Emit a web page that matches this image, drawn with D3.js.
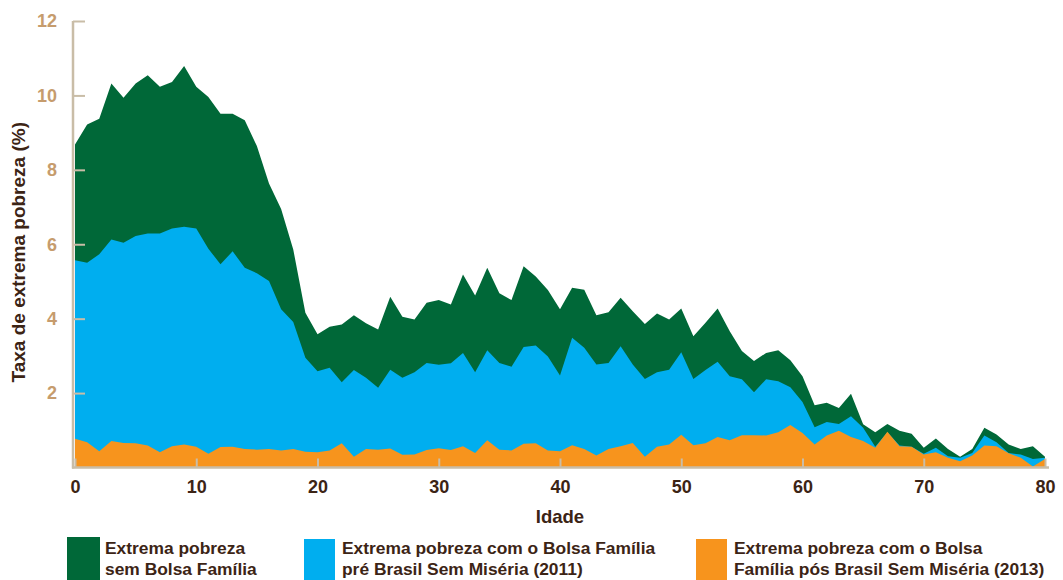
<!DOCTYPE html>
<html>
<head>
<meta charset="utf-8">
<script src="https://cdn.jsdelivr.net/npm/d3@7"></script>
<style>
  body { margin: 0; background: #fff; }
  svg text { font-family: 'Liberation Sans', Arial, sans-serif; font-weight: bold; }
</style>
</head>
<body>
<svg id="chart" width="1063" height="580"></svg>
<script>
// ages 0..80
const ages = [0,1,2,3,4,5,6,7,8,9,10,11,12,13,14,15,16,17,18,19,20,21,22,23,24,25,26,27,28,29,30,
  31,32,33,34,35,36,37,38,39,40,41,42,43,44,45,46,47,48,49,50,51,52,53,54,55,56,57,58,59,60,
  61,62,63,64,65,66,67,68,69,70,71,72,73,74,75,76,77,78,79,80];

// Extrema pobreza sem Bolsa Família
const semBolsa = [8.68,9.22,9.37,10.32,9.94,10.32,10.54,10.23,10.36,10.79,10.23,9.96,9.51,9.51,9.33,8.64,7.63,6.95,5.86,4.16,3.58,
  3.78,3.84,4.09,3.88,3.71,4.59,4.05,3.98,4.43,4.50,
  4.38,5.19,4.62,5.37,4.68,4.50,5.41,5.13,4.77,4.25,
  4.83,4.78,4.09,4.17,4.56,4.20,3.86,4.14,3.98,4.27,
  3.53,3.89,4.27,3.66,3.13,2.86,3.08,3.15,2.88,2.45,
  1.67,1.74,1.60,1.98,1.16,0.95,1.17,0.99,0.91,0.53,
  0.78,0.50,0.29,0.50,1.07,0.89,0.62,0.50,0.57,0.29];

// Extrema pobreza com o Bolsa Família pré Brasil Sem Miséria (2011)
const bolsa2011 = [5.57,5.50,5.73,6.13,6.04,6.22,6.29,6.29,6.42,6.47,6.42,5.88,5.46,5.81,5.37,5.22,5.01,4.25,3.91,2.95,2.59,
  2.68,2.29,2.62,2.41,2.14,2.63,2.41,2.56,2.81,2.76,
  2.80,3.08,2.56,3.15,2.81,2.71,3.24,3.28,2.98,2.47,
  3.49,3.22,2.77,2.81,3.26,2.77,2.38,2.56,2.63,3.10,
  2.38,2.62,2.84,2.45,2.37,2.02,2.37,2.32,2.16,1.76,
  1.08,1.22,1.17,1.38,1.07,0.56,0.95,0.59,0.56,0.37,
  0.53,0.30,0.26,0.39,0.86,0.68,0.39,0.35,0.23,0.26];

// Extrema pobreza com o Bolsa Família pós Brasil Sem Miséria (2013)
const bolsa2013 = [0.77,0.68,0.44,0.71,0.66,0.65,0.59,0.41,0.57,0.62,0.56,0.37,0.55,0.56,0.50,0.48,0.50,0.46,0.50,0.42,0.41,
  0.46,0.65,0.29,0.50,0.48,0.51,0.34,0.35,0.47,0.52,
  0.47,0.57,0.39,0.73,0.48,0.46,0.64,0.65,0.46,0.44,
  0.60,0.50,0.32,0.50,0.57,0.66,0.29,0.56,0.62,0.88,
  0.60,0.65,0.82,0.73,0.87,0.87,0.86,0.95,1.14,0.93,
  0.62,0.86,0.99,0.82,0.71,0.53,0.96,0.57,0.56,0.35,
  0.41,0.26,0.17,0.32,0.59,0.57,0.38,0.26,0.03,0.23];

const xTicks = [0,10,20,30,40,50,60,70,80];
const yTicks = [2,4,6,8,10,12];

const seriesNames = [
  ['Extrema pobreza', 'sem Bolsa Família'],
  ['Extrema pobreza com o Bolsa Família', 'pré Brasil Sem Miséria (2011)'],
  ['Extrema pobreza com o Bolsa', 'Família pós Brasil Sem Miséria (2013)']
];
const seriesColors = ['#006838', '#00aeef', '#f7941d'];

const axisColor = '#c9bda7';
const yLabelColor = '#c69c6d';
const textColor = '#3c2415';

class AreaChart {
  constructor(_config) {
    this.config = {
      parentElementSelector: _config.parentElementSelector,
      margin: _config.margin || { top: 21, right: 18, bottom: 112.5, left: 75 },
    };
    this.initVis();
  }

  initVis() {
    const m = this.config.margin;
    this.svg = d3.select(this.config.parentElementSelector);
    this.width = +this.svg.attr('width') - m.left - m.right;
    this.height = +this.svg.attr('height') - m.top - m.bottom;

    this.xScale = d3.scaleLinear().domain([0, 80]).range([0, this.width]);
    this.yScale = d3.scaleLinear().domain([0, 12]).range([this.height, 0]);

    this.chart = this.svg.append('g')
      .attr('transform', `translate(${m.left},${m.top})`);

    this.updateVis();
  }

  updateVis() {
    const vis = this;
    const series = [semBolsa, bolsa2011, bolsa2013];

    const area = d3.area()
      .x((d, i) => vis.xScale(ages[i]))
      .y0(vis.yScale(0))
      .y1(d => vis.yScale(d));

    // the areas overlap, each one starts at zero
    vis.chart.selectAll('path.area')
      .data(series)
      .join('path')
      .attr('class', 'area')
      .attr('fill', (d, i) => seriesColors[i])
      .attr('d', area);

    // y axis, ticks pointing inside
    const yAxis = d3.axisLeft(vis.yScale)
      .tickValues(yTicks)
      .tickSize(-12)
      .tickSizeOuter(0)
      .tickPadding(16);
    const yG = vis.chart.append('g')
      .attr('transform', 'translate(-2,0)')
      .call(yAxis);
    yG.select('.domain').remove();
    yG.selectAll('.tick line').attr('stroke', axisColor).attr('stroke-width', 2);
    yG.selectAll('.tick text')
      .attr('fill', yLabelColor)
      .attr('font-size', 18)
      .attr('font-family', null);
    yG.append('line')
      .attr('x1', 0).attr('x2', 0)
      .attr('y1', vis.yScale(12)).attr('y2', vis.yScale(0) + 1)
      .attr('stroke', axisColor).attr('stroke-width', 2.5);

    // x axis
    const xAxis = d3.axisBottom(vis.xScale)
      .tickValues(xTicks)
      .tickSize(-9)
      .tickSizeOuter(0)
      .tickPadding(13);
    const xG = vis.chart.append('g')
      .attr('transform', `translate(0,${vis.height})`)
      .call(xAxis);
    xG.select('.domain').remove();
    xG.selectAll('.tick line').attr('stroke', axisColor).attr('stroke-width', 2);
    xG.selectAll('.tick text')
      .attr('fill', textColor)
      .attr('font-size', 18)
      .attr('font-family', null);
    xG.append('line')
      .attr('x1', -3).attr('x2', vis.width + 4)
      .attr('y1', 0).attr('y2', 0)
      .attr('stroke', axisColor).attr('stroke-width', 2.5);

    // axis titles
    vis.chart.append('text')
      .attr('x', vis.width / 2)
      .attr('y', vis.height + 55)
      .attr('text-anchor', 'middle')
      .attr('fill', textColor)
      .attr('font-size', 18.5)
      .text('Idade');

    vis.chart.append('text')
      .attr('transform', `translate(-50,${vis.height / 2 + 8}) rotate(-90)`)
      .attr('text-anchor', 'middle')
      .attr('fill', textColor)
      .attr('font-size', 19)
      .text('Taxa de extrema pobreza (%)');

    // legend
    const legendX = [67, 304, 696];
    const legend = vis.svg.append('g').attr('class', 'legend');
    const items = legend.selectAll('g')
      .data(seriesNames)
      .join('g')
      .attr('transform', (d, i) => `translate(${legendX[i]},0)`);
    items.append('rect')
      .attr('x', 0).attr('y', (d, i) => (i === 0 ? 537 : 539))
      .attr('width', (d, i) => (i === 0 ? 33 : 31))
      .attr('height', 45)
      .attr('fill', (d, i) => seriesColors[i]);
    items.each(function (d, i) {
      const t = d3.select(this).append('text')
        .attr('fill', textColor)
        .attr('font-size', 17.4);
      t.append('tspan').attr('x', 38).attr('y', 554).text(d[0]);
      t.append('tspan').attr('x', 38).attr('y', 575).text(d[1]);
    });
  }
}

new AreaChart({ parentElementSelector: '#chart' });
</script>
</body>
</html>
